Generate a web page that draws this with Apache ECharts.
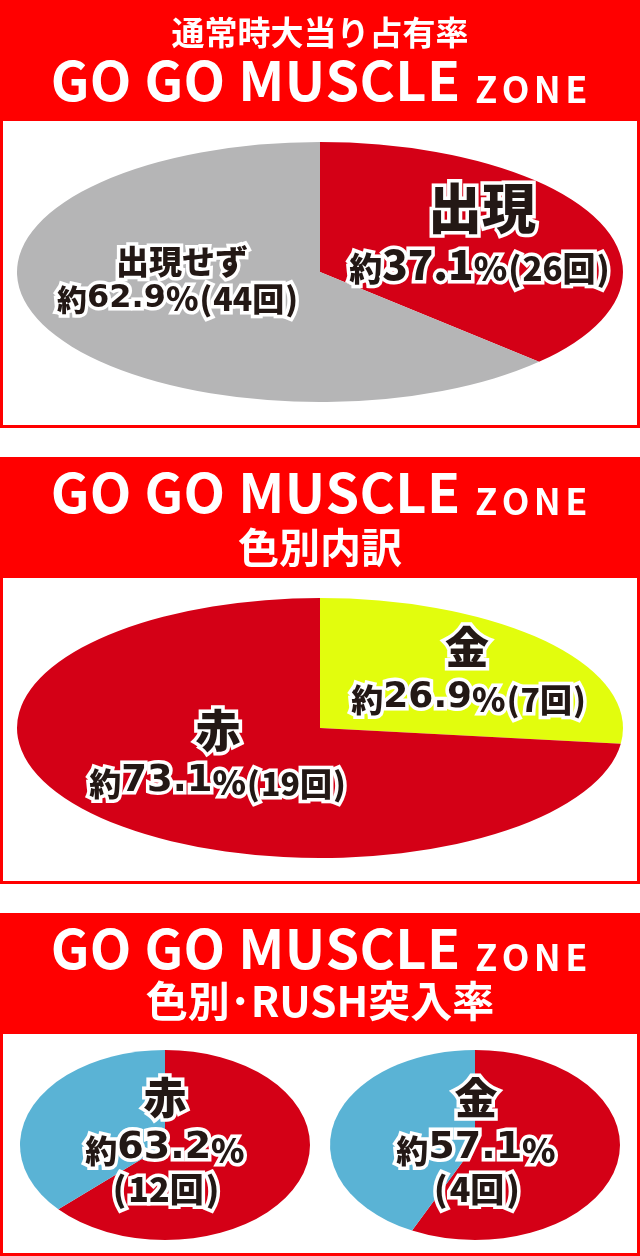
<!DOCTYPE html>
<html><head><meta charset="utf-8">
<script src="https://cdn.jsdelivr.net/npm/echarts@6/dist/echarts.min.js"></script>
<style>html,body{margin:0;padding:0;background:#fff}#c{width:640px;height:1256px}</style>
</head><body><div id="c"></div>
<script>
// ---- data ----
const overallCategories = ['出現', '出現せず'];
const overallCounts = [26, 44];
const overallPercents = [37.1, 62.9];
const colorCategories = ['金', '赤'];
const colorCounts = [7, 19];
const colorPercents = [26.9, 73.1];
const rushCategories = ['赤', '金'];
const rushHitCounts = [12, 4];
const rushMissCounts = [7, 3];
const rushPercents = [63.2, 57.1];
const headerTitles = ['通常時大当り占有率', '色別内訳', '色別･RUSH突入率'];
const zoneMain = 'GO GO MUSCLE';
const zoneSub = 'ZONE';

// ---- style / layout ----
const RED_BAND = '#ff0000';
const C_RED = '#d40016', C_GRAY = '#b5b5b6', C_GOLD = '#e2fd0d', C_BLUE = '#5ab3d5';
const PIES = [
  {cx: 320, cy: 272, rx: 303, ry: 130},
  {cx: 320, cy: 728, rx: 303, ry: 130},
  {cx: 165, cy: 1145, rx: 145, ry: 95},
  {cx: 475, cy: 1145, rx: 145, ry: 95}
];
const FONT = '"Noto Sans CJK JP","Noto Sans",sans-serif';
const DIGIT_FONT = '"DejaVu Sans","Noto Sans CJK JP",sans-serif';
const INK = '#231815';

// build slice data (fractions from counts)
const slices = [];
function addPie(pieIdx, counts, colors) {
  const total = counts.reduce((a, b) => a + b, 0);
  let acc = 0;
  counts.forEach((v, i) => {
    slices.push({value: [pieIdx, acc / total, (acc + v) / total], itemStyle: {color: colors[i]}});
    acc += v;
  });
}
addPie(0, overallCounts, [C_RED, C_GRAY]);
addPie(1, colorCounts, [C_GOLD, C_RED]);
addPie(2, [rushHitCounts[0], rushMissCounts[0]], [C_RED, C_BLUE]);
addPie(3, [rushHitCounts[1], rushMissCounts[1]], [C_RED, C_BLUE]);

const graphics = [];
function band(y0, h) {
  graphics.push({type: 'rect', z: 1, shape: {x: 0, y: y0, width: 640, height: h}, style: {fill: RED_BAND}});
}
function box(y0, y1) {
  graphics.push({type: 'rect', z: 1, shape: {x: 1.5, y: y0, width: 637, height: y1 - y0 - 1.5}, style: {fill: 'none', stroke: RED_BAND, lineWidth: 3}});
}
function whiteText(x, y, text, rich) {
  graphics.push({type: 'text', z: 20, x: x, y: y, style: {text: text, rich: rich, fill: '#fff', fontFamily: FONT, fontWeight: 'bold', align: 'center', verticalAlign: 'middle'}});
}
const zoneRich = {
  a: {fontSize: 54, fontWeight: 'bold', fontFamily: FONT, fill: '#fff', verticalAlign: 'bottom', lineHeight: 60, padding: [0, 0.2, 0, 0.2]},
  b: {fontSize: 36, fontWeight: 'bold', fontFamily: FONT, fill: '#fff', verticalAlign: 'bottom', lineHeight: 60, padding: [0, 2.2, 0, 2.2]}
};
function spaced(str, key) {
  return str.split('').map(ch => '{' + key + '|' + ch + '}').join('');
}
const zoneText = spaced(zoneMain + ' ', 'a') + spaced(zoneSub, 'b');

band(0, 121); box(119.5, 428);
band(457, 121); box(576.5, 884);
band(913, 121); box(1032.5, 1256);

whiteText(320, 32, '{t|' + headerTitles[0] + '}', {t: {fontSize: 33, fontWeight: 'bold', fontFamily: FONT, fill: '#fff'}});
whiteText(320, 77, zoneText, zoneRich);
whiteText(320, 489, zoneText, zoneRich);
whiteText(320, 547, '{t|' + headerTitles[1] + '}', {t: {fontSize: 41, fontWeight: 'bold', fontFamily: FONT, fill: '#fff'}});
whiteText(320, 945, zoneText, zoneRich);
whiteText(320, 1001, '{t|' + headerTitles[2] + '}', {t: {fontSize: 42, fontWeight: 'bold', fontFamily: FONT, fill: '#fff'}});

const OUT = 7;
function tok(size, font, pad) {
  const t = {fontSize: size, fontWeight: font === DIGIT_FONT ? 'bold' : 900, fontFamily: font || FONT, fill: INK,
    stroke: '#fff', lineWidth: OUT, verticalAlign: 'bottom', lineHeight: size};
  if (pad) t.padding = pad;
  return t;
}
function inkText(x, y, text, rich) {
  graphics.push({type: 'text', z: 30, x: x, y: y, style: {text: text, rich: rich, fill: INK, stroke: '#fff', lineWidth: OUT, fontFamily: FONT, fontWeight: 900, align: 'center', verticalAlign: 'middle'}});
}
// s: {k: 約 size, n: digits size, nf: digits font, p: % size, q: count size}
function pctLine(pct, cnt, s) {
  let text = '{k|約}{n|' + pct + '}{p|%}';
  if (cnt !== null) text += '{o|(}{q|' + cnt + '回}{o|)}';
  return {text: text, rich: {k: tok(s.k), n: tok(s.n, s.nf), p: tok(s.p), q: tok(s.q), o: tok(s.q, FONT, [0, 1, 0, 1])}};
}
function countLine(cnt, size) {
  return {text: '{o|(}{q|' + cnt + '回}{o|)}', rich: {q: tok(size), o: tok(size, FONT, [0, 2, 0, 2])}};
}
// pie 1 labels
inkText(482, 208, '{h|' + overallCategories[0] + '}', {h: tok(54)});
let L = pctLine(overallPercents[0].toFixed(1), overallCounts[0], {k: 33, n: 42, nf: FONT, p: 34, q: 33});
inkText(480, 264, L.text, L.rich);
inkText(182, 261, '{h|' + overallCategories[1] + '}', {h: tok(33)});
L = pctLine(overallPercents[1].toFixed(1), overallCounts[1], {k: 30, n: 32, nf: DIGIT_FONT, p: 33, q: 32});
inkText(178, 298, L.text, L.rich);
// pie 2 labels
inkText(467, 647, '{h|' + colorCategories[0] + '}', {h: tok(44)});
L = pctLine(colorPercents[0].toFixed(1), colorCounts[0], {k: 32, n: 36, nf: DIGIT_FONT, p: 34, q: 32});
inkText(469, 698, L.text, L.rich);
inkText(218, 731, '{h|' + colorCategories[1] + '}', {h: tok(45)});
L = pctLine(colorPercents[1].toFixed(1), colorCounts[1], {k: 32, n: 37, nf: DIGIT_FONT, p: 34, q: 32});
inkText(218, 781, L.text, L.rich);
// pie 3/4 labels
[0, 1].forEach(i => {
  const cx = i === 0 ? 165 : 476;
  inkText(cx, 1098, '{h|' + rushCategories[i] + '}', {h: tok(43)});
  const P = pctLine(rushPercents[i].toFixed(1), null, {k: 32, n: 38, nf: DIGIT_FONT, p: 34, q: 32});
  inkText(cx, 1148, P.text, P.rich);
  const C = countLine(rushHitCounts[i], 34);
  inkText(cx + 1, 1189, C.text, C.rich);
});

const chart = echarts.init(document.getElementById('c'), null, {renderer: 'canvas'});
chart.setOption({
  animation: false,
  graphic: graphics,
  series: [{
    type: 'custom',
    coordinateSystem: 'none',
    silent: true,
    z: 5,
    data: slices,
    renderItem: function (params, api) {
      const p = PIES[api.value(0)];
      const a0 = -Math.PI / 2 + api.value(1) * 2 * Math.PI;
      const a1 = -Math.PI / 2 + api.value(2) * 2 * Math.PI;
      return {
        type: 'sector',
        x: p.cx, y: p.cy, scaleX: 1, scaleY: p.ry / p.rx,
        shape: {cx: 0, cy: 0, r0: 0, r: p.rx, startAngle: a0, endAngle: a1, clockwise: true},
        style: {fill: api.visual('color')}
      };
    }
  }]
});
</script></body></html>
